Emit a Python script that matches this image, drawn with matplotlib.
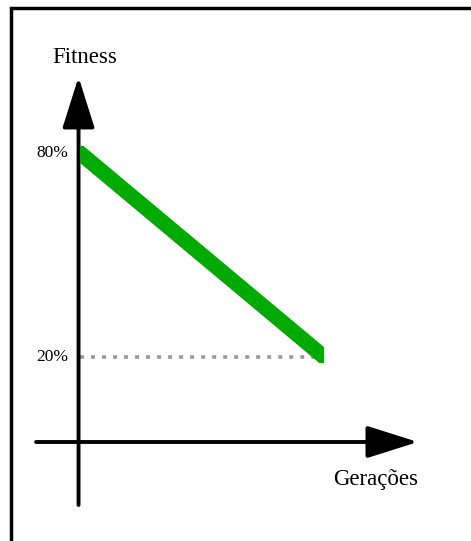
import matplotlib
matplotlib.use('Agg')
import matplotlib.pyplot as plt
from matplotlib.patches import Rectangle
from matplotlib.lines import Line2D

# fitness falls from 80% to 20% over the generations
generations = [0, 100]
fitness = [80, 20]
tick_values = [80, 20]
tick_labels = ['80%', '20%']
x_label = 'Gerações'
y_label = 'Fitness'

green = '#00aa00'
font = 'Liberation Serif'

fig = plt.figure(figsize=(4.71, 5.41), dpi=100)
ax = fig.add_axes([0, 0, 1, 1])
ax.set_xlim(-32.79, 160.25)
ax.set_ylim(-34.12, 125.0)
ax.axis('off')

# frame (only top and left edges are visible in the crop)
fig.add_artist(Line2D([0.0227, 0.0227, 1.0], [0.0, 0.9858, 0.9858],
                      transform=fig.transFigure, color='black', lw=2.5,
                      solid_joinstyle='miter'))

# axes drawn as arrows
arrow_style = '-|>,head_length=3.17,head_width=1.0'
ax.annotate('', xy=(-0.6, 102.35), xytext=(-0.6, -23.53),
            arrowprops=dict(arrowstyle=arrow_style, color='black', lw=2.8,
                            mutation_scale=10, shrinkA=0, shrinkB=0))
ax.annotate('', xy=(138.5, -5.0), xytext=(-18.0, -5.0),
            arrowprops=dict(arrowstyle=arrow_style, color='black', lw=2.8,
                            mutation_scale=10, shrinkA=0, shrinkB=0))

# dotted guide at the final fitness level
ax.plot([generations[0], generations[-1]], [fitness[-1], fitness[-1]],
        color='#999999', lw=2.6, linestyle=(0, (1.1, 1.95)), zorder=2)

# thick green line, clipped to a box so its ends are square to the axes
line, = ax.plot(generations, fitness, color=green, lw=11.0,
                solid_capstyle='projecting', zorder=3)
clip = Rectangle((generations[0], 18.24), generations[-1] - generations[0],
                 82.06 - 18.24, transform=ax.transData)
line.set_clip_path(clip)

for v, lab in zip(tick_values, tick_labels):
    ax.text(-4.9, v, lab, ha='right', va='center', fontsize=12.5, family=font)

ax.text(2.05, 106.47, y_label, ha='center', va='baseline', fontsize=16.5, family=font)
ax.text(121.3, -17.65, x_label, ha='center', va='baseline', fontsize=16.5, family=font)

fig.savefig('out.png', dpi=100)
